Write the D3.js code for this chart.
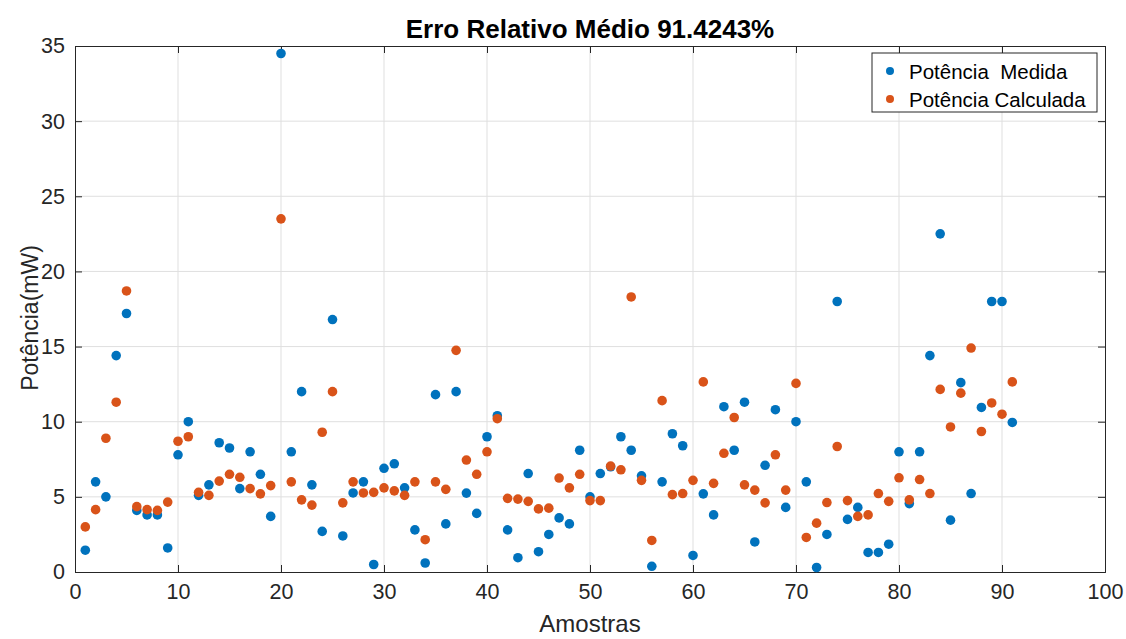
<!DOCTYPE html>
<html>
<head>
<meta charset="utf-8">
<script src="https://cdn.jsdelivr.net/npm/d3@7"></script>
<style>
  html, body { margin: 0; padding: 0; background: #fff; }
  svg { display: block; font-family: "Liberation Sans", Arial, Helvetica, sans-serif; }
</style>
</head>
<body>
<svg id="chart" width="1126" height="639"></svg>
<script>
// Sample indices 1..91
const amostras = d3.range(1, 92);

// Measured power (mW)
const potenciaMedida = [
  1.45, 6.0, 5.0, 14.4, 17.2, 4.1, 3.8, 3.8, 1.6, 7.8,
  10.0, 5.1, 5.8, 8.6, 8.25, 5.55, 8.0, 6.5, 3.7, 34.5,
  8.0, 12.0, 5.8, 2.7, 16.8, 2.4, 5.26, 6.0, 0.5, 6.9,
  7.2, 5.6, 2.8, 0.6, 11.8, 3.2, 12.0, 5.25, 3.9, 9.0,
  10.4, 2.8, 0.95, 6.55, 1.35, 2.5, 3.6, 3.2, 8.1, 5.0,
  6.55, 7.0, 9.0, 8.1, 6.4, 0.38, 6.0, 9.2, 8.4, 1.1,
  5.2, 3.8, 11.0, 8.1, 11.3, 2.0, 7.1, 10.8, 4.3, 10.0,
  6.0, 0.3, 2.5, 18.0, 3.5, 4.3, 1.3, 1.3, 1.85, 8.0,
  4.55, 8.0, 14.4, 22.5, 3.45, 12.6, 5.22, 10.95, 18.0, 18.0,
  9.95
];

// Calculated power (mW)
const potenciaCalculada = [
  3.0, 4.15, 8.9, 11.3, 18.7, 4.35, 4.15, 4.1, 4.65, 8.7,
  9.0, 5.3, 5.1, 6.05, 6.5, 6.3, 5.55, 5.2, 5.75, 23.5,
  6.0, 4.8, 4.45, 9.3, 12.0, 4.6, 6.0, 5.26, 5.3, 5.6,
  5.4, 5.1, 6.0, 2.15, 6.0, 5.5, 14.75, 7.45, 6.5, 8.0,
  10.2, 4.9, 4.85, 4.7, 4.2, 4.25, 6.25, 5.6, 6.5, 4.75,
  4.75, 7.05, 6.8, 18.3, 6.1, 2.1, 11.4, 5.15, 5.22, 6.1,
  12.65, 5.9, 7.9, 10.28, 5.8, 5.45, 4.6, 7.8, 5.45, 12.55,
  2.3, 3.25, 4.62, 8.35, 4.75, 3.7, 3.8, 5.22, 4.7, 6.27,
  4.8, 6.15, 5.22, 12.15, 9.65, 11.9, 14.9, 9.35, 11.25, 10.5,
  12.65
];

const xTicks = d3.range(0, 101, 10);
const yTicks = d3.range(0, 36, 5);

const titulo = "Erro Relativo Médio 91.4243%";
const rotuloX = "Amostras";
const rotuloY = "Potência(mW)";
const legendas = ["Potência  Medida", "Potência Calculada"];
const cores = ["#0072BD", "#D95319"];

const svg = d3.select("#chart");
const m = { left: 75, right: 1105, top: 46, bottom: 572 };

const x = d3.scaleLinear().domain([0, 100]).range([m.left, m.right]);
const y = d3.scaleLinear().domain([0, 35]).range([m.bottom, m.top]);

const axisColor = "#262626";

// grid
const grid = svg.append("g");
grid.selectAll("line.gx").data(xTicks.slice(1, -1)).join("line")
  .attr("x1", d => x(d)).attr("x2", d => x(d))
  .attr("y1", m.top).attr("y2", m.bottom)
  .attr("stroke", "#dfdfdf").attr("stroke-width", 1);
grid.selectAll("line.gy").data(yTicks.slice(1, -1)).join("line")
  .attr("x1", m.left).attr("x2", m.right)
  .attr("y1", d => y(d)).attr("y2", d => y(d))
  .attr("stroke", "#dfdfdf").attr("stroke-width", 1);

// axes (ticks point inward)
const tickLen = 7;
const axisBottom = d3.axisBottom(x).tickValues(xTicks).tickSize(-tickLen).tickPadding(12).tickFormat(d3.format("d"));
const axisTop = d3.axisTop(x).tickValues(xTicks).tickSize(-tickLen).tickFormat("");
const axisLeft = d3.axisLeft(y).tickValues(yTicks).tickSize(-tickLen).tickPadding(10).tickFormat(d3.format("d"));
const axisRight = d3.axisRight(y).tickValues(yTicks).tickSize(-tickLen).tickFormat("");

function style(g) {
  g.select(".domain").attr("stroke", axisColor).attr("stroke-width", 1);
  g.selectAll(".tick line").attr("stroke", axisColor);
  g.selectAll(".tick text").attr("fill", axisColor).style("font-size", "21.5px");
}

svg.append("g").attr("transform", `translate(0,${m.bottom})`).call(axisBottom).call(style);
svg.append("g").attr("transform", `translate(0,${m.top})`).call(axisTop).call(style);
svg.append("g").attr("transform", `translate(${m.left},0)`).call(axisLeft).call(style);
svg.append("g").attr("transform", `translate(${m.right},0)`).call(axisRight).call(style);

// points
const serie = [potenciaMedida, potenciaCalculada];
serie.forEach((vals, i) => {
  svg.append("g").selectAll("circle").data(vals).join("circle")
    .attr("cx", (d, j) => x(amostras[j]))
    .attr("cy", d => y(d))
    .attr("r", 4.8)
    .attr("fill", cores[i]);
});

// title and labels
svg.append("text").attr("x", 590).attr("y", 38)
  .attr("text-anchor", "middle").attr("font-weight", "bold")
  .style("font-size", "26px").attr("fill", "#000").text(titulo);

svg.append("text").attr("x", 590).attr("y", 632)
  .attr("text-anchor", "middle").style("font-size", "24px")
  .attr("fill", axisColor).text(rotuloX);

svg.append("text").attr("transform", `translate(38,${318}) rotate(-90)`)
  .attr("text-anchor", "middle").style("font-size", "23px")
  .attr("fill", axisColor).text(rotuloY);

// legend
const lg = svg.append("g");
lg.append("rect").attr("x", 872).attr("y", 53).attr("width", 225).attr("height", 59)
  .attr("fill", "#fff").attr("stroke", axisColor).attr("stroke-width", 1);
legendas.forEach((t, i) => {
  const cy = 71 + i * 28;
  lg.append("circle").attr("cx", 890).attr("cy", cy).attr("r", 4).attr("fill", cores[i]);
  lg.append("text").attr("x", 909).attr("y", cy + 7.5)
    .style("font-size", "20.5px").style("white-space", "pre")
    .attr("fill", "#000").text(t);
});
</script>
</body>
</html>
